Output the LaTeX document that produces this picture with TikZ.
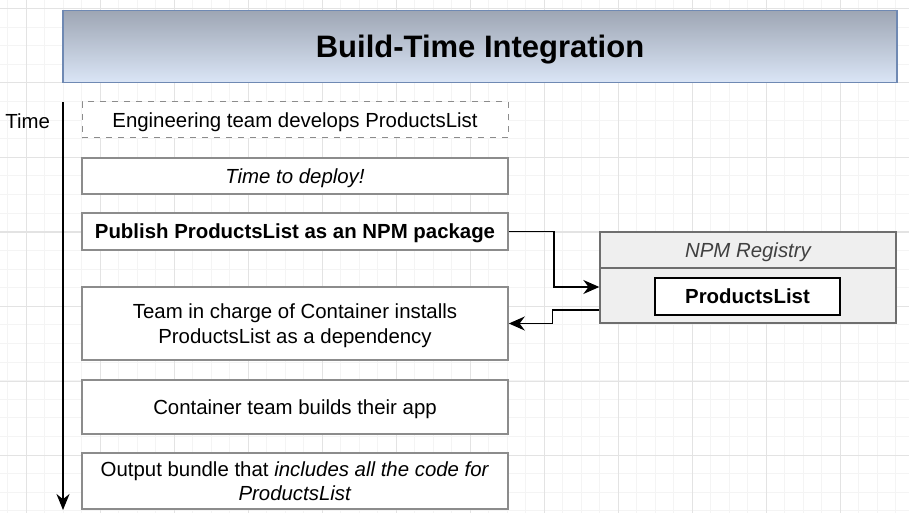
\documentclass[tikz,border=0pt]{standalone}
\usepackage{fontspec}
\setmainfont{Liberation Sans}
\usepackage{xcolor}
\usetikzlibrary{positioning, arrows.meta}

\definecolor{boxgray}{HTML}{8C8C8C}
\definecolor{titletop}{HTML}{9EA6B4}
\definecolor{titlebottom}{HTML}{DAE5F6}
\definecolor{titleline}{HTML}{6F89B3}
\definecolor{regfill}{HTML}{EFEFEF}
\definecolor{regline}{HTML}{6E6E6E}
\definecolor{minorgrid}{HTML}{F4F4F4}
\definecolor{majorgrid}{HTML}{E3E3E3}

\begin{document}
\begin{tikzpicture}[x=0.5pt, y=-0.5pt, >={Stealth[length=8pt, width=7pt]},
  every node/.style={font=\fontsize{10.2}{12.2}\selectfont, align=center, inner sep=0pt, text depth=0pt},
  stepbox/.style={draw=boxgray, line width=0.8pt, fill=white, rectangle, minimum width=213pt},
  regbox/.style={draw=regline, line width=0.7pt, fill=regfill, rectangle, minimum width=148pt},
  link/.style={->, line width=0.8pt},
  timeline/.style={->, line width=1pt, >={Stealth[length=8pt, width=6.5pt]}}]
  \useasboundingbox (0,0) rectangle (909,513);
  \fill[white] (0,0) rectangle (909,513);

  % background grid
  \foreach \gx in {7.5,26,...,909} \draw[minorgrid, line width=0.4pt] (\gx,0) -- (\gx,513);
  \foreach \gy in {8.5,27.1,...,513} \draw[minorgrid, line width=0.4pt] (0,\gy) -- (909,\gy);
  \foreach \gx in {26,100,...,909} \draw[majorgrid, line width=0.5pt] (\gx,0) -- (\gx,513);
  \foreach \gy in {8.5,83,...,513} \draw[majorgrid, line width=0.5pt] (0,\gy) -- (909,\gy);

  % title
  \node (title) [draw=titleline, line width=0.7pt, top color=titletop, bottom color=titlebottom,
    minimum width=417pt, minimum height=36pt, font=\fontsize{15.5}{18}\selectfont\bfseries]
    at (480,46.5) {Build-Time Integration};

  % time axis
  \node (time) [anchor=west, text depth=] at (5,121) {Time};
  \coordinate (tstart) at (63,102);
  \coordinate (tend) at (63,510);
  \draw[timeline] (tstart) -- (tend);

  % steps
  \node (develop) [stepbox, minimum height=18pt, dashed, line width=0.5pt] at (295,120)
    {Engineering team develops ProductsList};
  \node (deploy) [stepbox, minimum height=18pt] at (295,176) {\itshape Time to deploy!};
  \node (publish) [stepbox, minimum height=18.5pt] at (295,231.5)
    {\bfseries Publish ProductsList as an NPM package};
  \node (install) [stepbox, minimum height=36.5pt] at (295,323.5)
    {Team in charge of Container installs\\ProductsList as a dependency};
  \node (build) [stepbox, minimum height=27pt] at (295,407) {Container team builds their app};
  \node (bundle) [stepbox, minimum height=28pt] at (295,481)
    {Output bundle that \textit{includes all the code for}\\\textit{ProductsList}};

  % registry
  \node (reghead) [regbox, minimum height=18pt, text=black!75, font=\fontsize{10.2}{12.2}\selectfont\itshape]
    at (748,250) {NPM Registry};
  \node (regbody) [regbox, minimum height=27.5pt] at (748,295.5) {};
  \node (package) [draw, line width=1pt, fill=white, minimum width=92.5pt, minimum height=18.5pt,
    font=\fontsize{10.2}{12.2}\selectfont\bfseries] at (747.5,296.5) {ProductsList};

  \draw[link] (publish.east) -- ++(22.5pt,0) |- ([yshift=4.25pt]regbody.west);
  \draw[link] ([yshift=-7.25pt]regbody.west) -- ++(-23.5pt,0) |- (install.east);
\end{tikzpicture}
\end{document}
